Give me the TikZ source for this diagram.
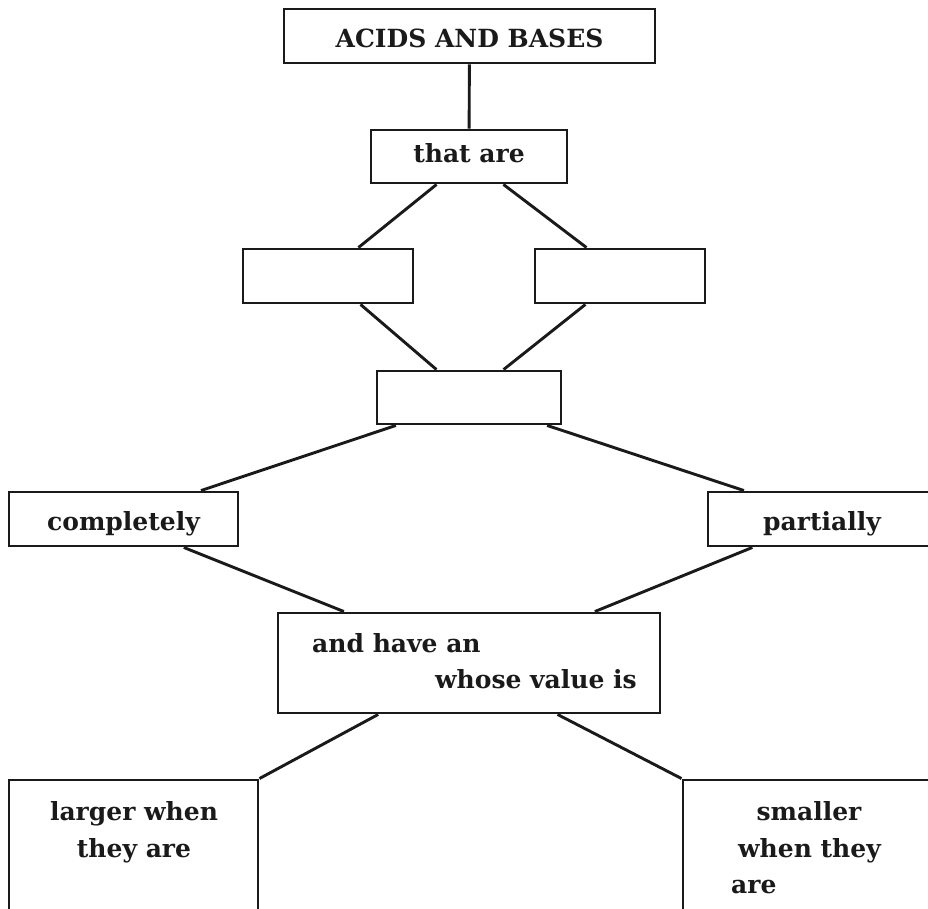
\documentclass[tikz,border=0pt]{standalone}
\usepackage{fontspec}
\setmainfont{DejaVu Serif}
\usetikzlibrary{calc}
\definecolor{ink}{HTML}{1A1A1A}
\begin{document}
\begin{tikzpicture}[x=1pt,y=-1pt,
  box/.style={draw=ink, line width=2.9pt, fill=white, inner sep=0pt},
  lbl/.style={font=\fontsize{25}{37}\selectfont\bfseries, text=ink, inner sep=0pt},
  conn/.style={draw=ink, line width=2.9pt}]
\clip (0,0) rectangle (928,909);
\fill[white] (0,0) rectangle (928,909);
% boxes
\node[box, minimum width=371pt, minimum height=54pt] (top) at (469.5,36) {};
\node[box, minimum width=196pt, minimum height=53pt] (that) at (469,156.5) {};
\node[box, minimum width=170pt, minimum height=54pt] (L) at (328,276) {};
\node[box, minimum width=170pt, minimum height=54pt] (R) at (620,276) {};
\node[box, minimum width=184pt, minimum height=53pt] (mid) at (469,397.5) {};
\node[box, minimum width=229pt, minimum height=54pt] (comp) at (123.5,519) {};
\node[box, minimum width=232pt, minimum height=54pt] (part) at (824,519) {};
\node[box, minimum width=382pt, minimum height=100pt] (ahv) at (469,663) {};
\node[box, minimum width=249pt, minimum height=180pt] (larger) at (133.5,870) {};
\node[box, minimum width=256pt, minimum height=180pt] (smaller) at (811,870) {};
% connectors
\draw[conn] (top) -- (that);
\draw[conn] ($(that.south west)!0.337!(that.south east)$) -- ($(L.north west)!0.676!(L.north east)$);
\draw[conn] ($(that.south west)!0.673!(that.south east)$) -- ($(R.north west)!0.306!(R.north east)$);
\draw[conn] ($(L.south west)!0.688!(L.south east)$) -- ($(mid.north west)!0.326!(mid.north east)$);
\draw[conn] ($(R.south west)!0.300!(R.south east)$) -- ($(mid.north west)!0.685!(mid.north east)$);
\draw[conn] ($(mid.south west)!0.109!(mid.south east)$) -- ($(comp.north west)!0.834!(comp.north east)$);
\draw[conn] ($(mid.south west)!0.918!(mid.south east)$) -- ($(part.north west)!0.159!(part.north east)$);
\draw[conn] ($(comp.south west)!0.760!(comp.south east)$) -- ($(ahv.north west)!0.175!(ahv.north east)$);
\draw[conn] ($(part.south west)!0.195!(part.south east)$) -- ($(ahv.north west)!0.827!(ahv.north east)$);
\draw[conn] ($(ahv.south west)!0.264!(ahv.south east)$) -- (larger.north east);
\draw[conn] ($(ahv.south west)!0.730!(ahv.south east)$) -- (smaller.north west);
% texts
\node[lbl, anchor=base] (t1) at (469.5,48) {ACIDS AND BASES};
\node[lbl, anchor=base] (t2) at (469,163) {that are};
\node[lbl, anchor=base] (t3) at (123.5,530) {completely};
\node[lbl, anchor=base] (t4) at (822,530) {partially};
\node[lbl, anchor=base west] (t5) at (312,652) {and have an};
\node[lbl, anchor=base east] (t6) at (637,688) {whose value is};
\node[lbl, anchor=base] (t7) at (134,820) {larger when};
\node[lbl, anchor=base] (t8) at (134,857) {they are};
\node[lbl, anchor=base] (t9) at (809,820) {smaller};
\node[lbl, anchor=base] (t10) at (809.5,857) {when they};
\node[lbl, anchor=base west] (t11) at (731,893) {are};
\end{tikzpicture}
\end{document}
